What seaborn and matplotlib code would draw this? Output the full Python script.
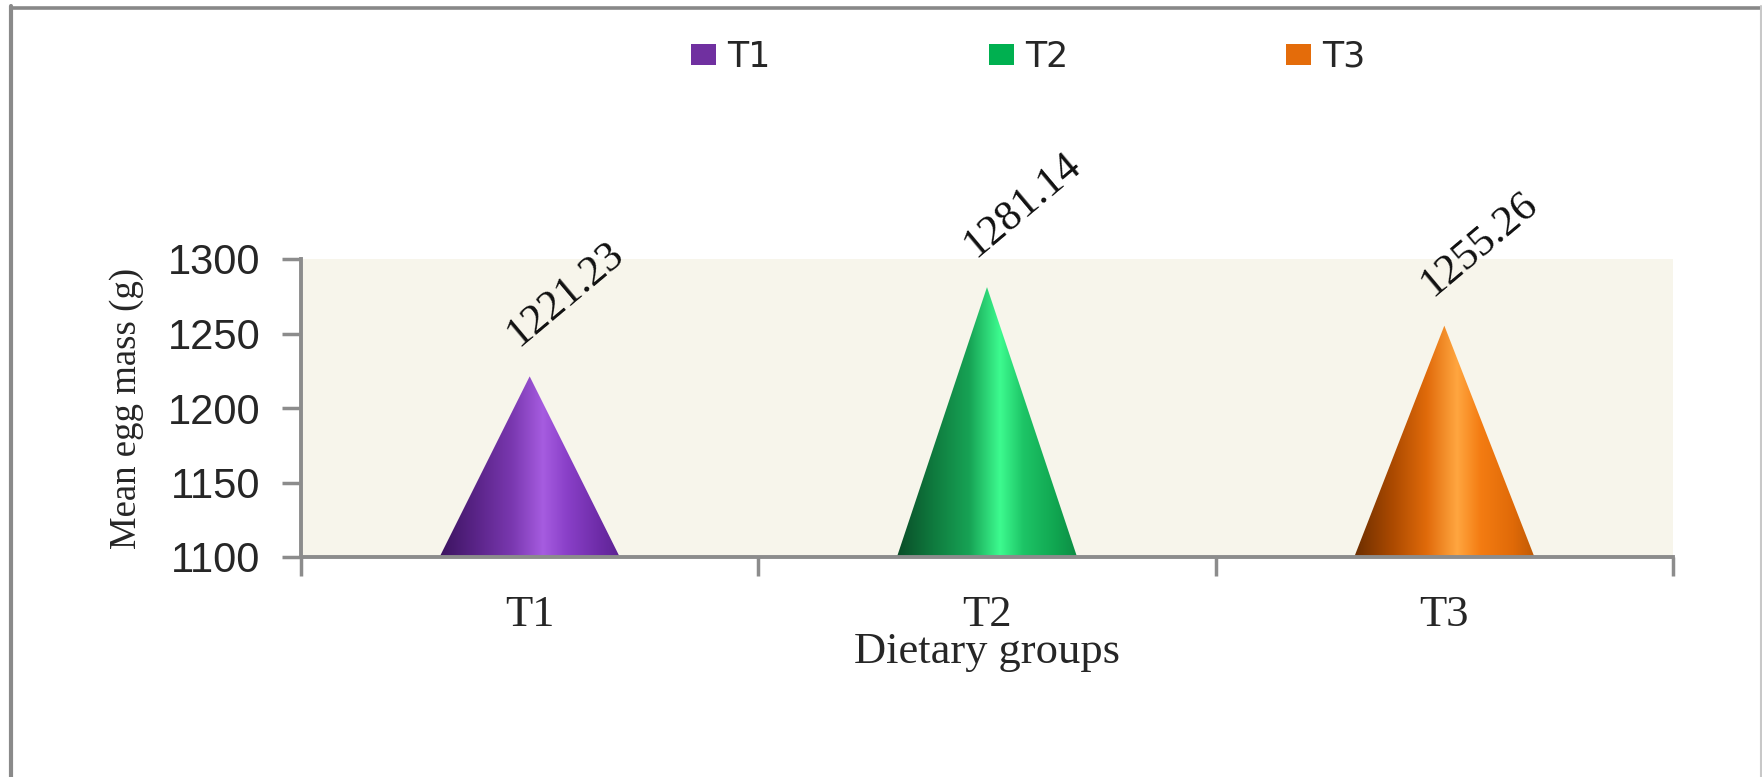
import numpy as np
import pandas as pd
import matplotlib
matplotlib.use("Agg")
import matplotlib.pyplot as plt
import seaborn as sns
from matplotlib.colors import LinearSegmentedColormap
from matplotlib.patches import Polygon, Rectangle
from matplotlib.lines import Line2D

# ---- data ----
groups = ["T1", "T2", "T3"]
egg_mass = [1221.23, 1281.14, 1255.26]
y_ticks = [1100, 1150, 1200, 1250, 1300]
y_label = "Mean egg mass (g)"
x_label = "Dietary groups"

# ---- styling ----
legend_colors = ["#7030A0", "#00B050", "#E46C0A"]
cone_shades = [
    ["#3c1460", "#5a2488", "#7a38b0", "#a65ce0", "#8a40c8", "#6e2ca8", "#5c2392"],
    ["#0a4d28", "#0f7a3e", "#17a355", "#3dfb8f", "#1dc466", "#10a550", "#0d8c44"],
    ["#6b2e00", "#a84800", "#e06a0a", "#ffa640", "#f47c12", "#e06a08", "#c05a05"],
]
shade_stops = [0.0, 0.2, 0.4, 0.57, 0.7, 0.88, 1.0]
grey = "#8c8c8c"
panel_bg = "#F7F5EB"
serif = ["Liberation Serif", "DejaVu Serif"]

sns.set_theme(style="white")
plt.rcParams["font.family"] = serif

fig = plt.figure(figsize=(17.62, 7.77), dpi=100)
ax = fig.add_axes([301 / 1762, 1 - 557 / 777, (1673 - 301) / 1762, (557 - 259) / 777])
ax.set_facecolor(panel_bg)

df = pd.DataFrame({"group": groups, "mass": egg_mass})
sns.barplot(data=df, x="group", y="mass", hue="group", palette=legend_colors,
            width=0.394, saturation=1, legend=False, ax=ax)

base = y_ticks[0]
ax.set_ylim(base, y_ticks[-1])
ax.set_xlim(-0.5, len(groups) - 0.5)

# turn each bar into a shaded cone with its apex at the bar's value
for bar, shades in zip(ax.patches, cone_shades):
    x0 = bar.get_x()
    w = bar.get_width()
    v = bar.get_y() + bar.get_height()
    bar.set_visible(False)
    cone = Polygon([(x0, base), (x0 + w / 2, v), (x0 + w, base)], closed=True,
                   facecolor="none", edgecolor="none", transform=ax.transData)
    ax.add_patch(cone)
    cmap = LinearSegmentedColormap.from_list("shade", list(zip(shade_stops, shades)))
    grad = np.linspace(0, 1, 256).reshape(1, -1)
    im = ax.imshow(grad, cmap=cmap, extent=[x0, x0 + w, base, v], aspect="auto",
                   origin="lower", zorder=2, interpolation="bilinear")
    im.set_clip_path(cone)
    ax.annotate(f"{v:.2f}", xy=(x0 + w / 2, v), xytext=(-6, 22),
                textcoords="offset pixels", rotation=40, rotation_mode="anchor",
                ha="left", va="bottom", fontsize=31, color="#111111",
                family=serif, annotation_clip=False)

ax.set_xlim(-0.5, len(groups) - 0.5)
ax.set_ylim(base, y_ticks[-1])

# axes, ticks and labels
sns.despine(ax=ax, top=True, right=True)
for side in ("left", "bottom"):
    ax.spines[side].set_color(grey)
    ax.spines[side].set_linewidth(2.8)

ax.set_yticks(y_ticks)
ax.set_yticklabels([str(t) for t in y_ticks], family="Liberation Sans", fontsize=30)
ax.tick_params(axis="y", which="major", direction="out", length=14, width=2.5,
               color=grey, pad=15, left=True)

ax.set_xticks(range(len(groups)))
ax.set_xticklabels(groups, fontsize=32)
ax.tick_params(axis="x", which="major", length=0, pad=27)
ax.set_xticks([i - 0.5 for i in range(len(groups) + 1)], minor=True)
ax.tick_params(axis="x", which="minor", direction="out", length=14, width=2.5,
               color=grey, bottom=True)

ax.set_xlabel(x_label, fontsize=32, labelpad=-2)
ax.set_ylabel(y_label, fontsize=26.5, labelpad=17)
ax.grid(False)

# legend
handles = [Rectangle((0, 0), 1, 1, facecolor=c, edgecolor="none") for c in legend_colors]
fig.legend(handles, groups, loc="center", bbox_to_anchor=(0.5837, 0.927), ncol=3,
           frameon=False, prop={"family": "DejaVu Sans", "size": 25},
           handlelength=0.72, handleheight=0.58, handletextpad=0.32,
           columnspacing=6.28)

# outer frame
fig.add_artist(Line2D([11 / 1762, 1], [1 - 7.5 / 777] * 2, transform=fig.transFigure,
                      color="#888888", linewidth=2.6))
fig.add_artist(Line2D([11 / 1762] * 2, [0, 1 - 6 / 777], transform=fig.transFigure,
                      color="#8a8a8a", linewidth=3.0))
fig.add_artist(Line2D([1761 / 1762] * 2, [0, 1 - 6 / 777], transform=fig.transFigure,
                      color="#c8c8c8", linewidth=1.5))

fig.savefig("out.png", dpi=100, facecolor="white")
